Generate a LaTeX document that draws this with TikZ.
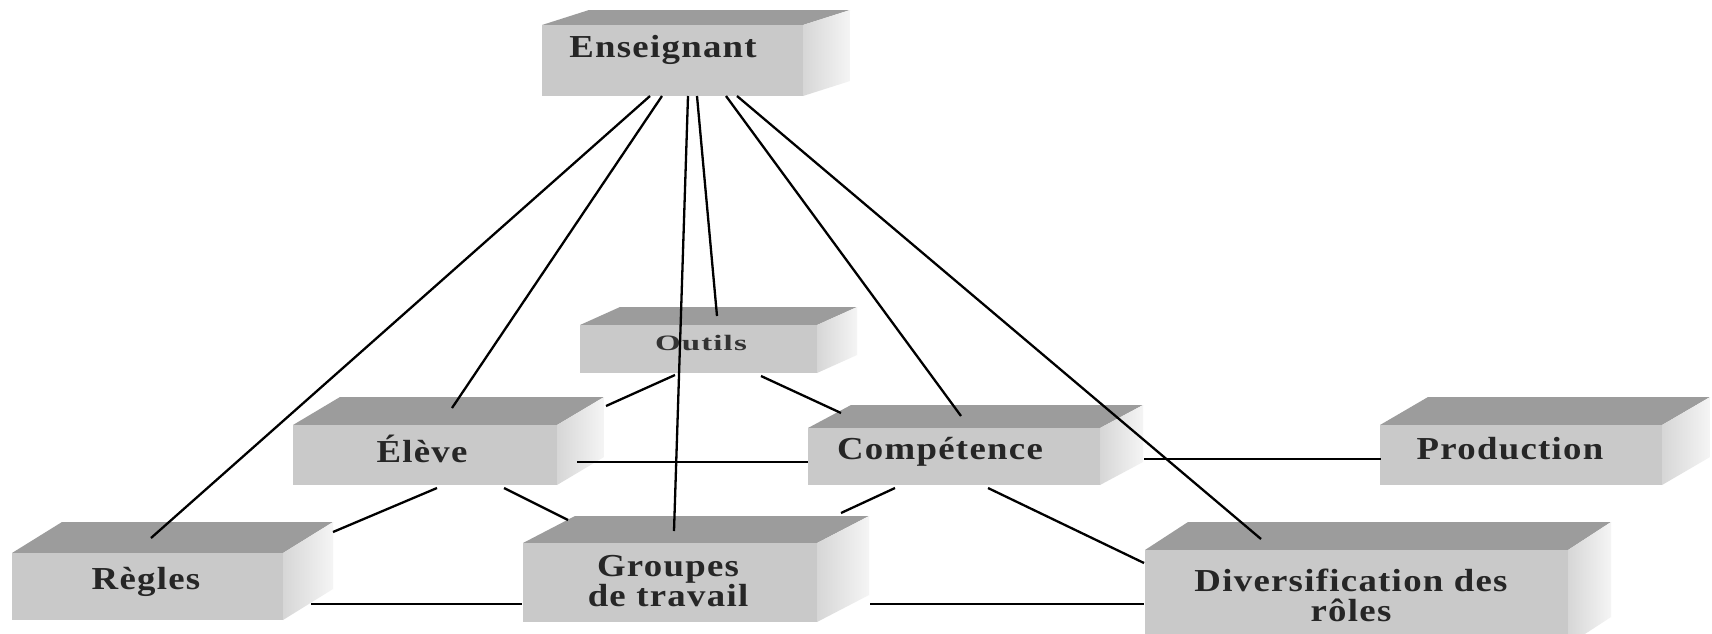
\documentclass[tikz,border=0pt]{standalone}
\usepackage{fontspec}
\setmainfont{Liberation Serif}
\newfontfamily\boxfont[LetterSpace=4, FakeStretch=1.15]{Liberation Serif}
\newfontfamily\smallboxfont[LetterSpace=5, FakeStretch=1.5]{Liberation Serif}
\tikzset{
  topface/.style={fill=gray!78},
  frontbox/.style={rectangle, fill=gray!42, draw=none, inner sep=0pt},
  lbl/.style={font=\boxfont\bfseries\fontsize{16}{15}\selectfont, align=center, text=black!85, inner sep=0pt},
  smalllbl/.style={font=\smallboxfont\bfseries\fontsize{11}{12}\selectfont, text=black!80, inner sep=0pt},
  link/.style={draw=black, line width=1.15pt},
}
% name, x1, y1, x2, y2, dx, dy
\newcommand\tdbox[7]{%
  \fill[topface] (#2,#3) -- ++(#6,#7) -- ++({#4-#2},0) -- (#4,#3) -- cycle;
  \shade[left color=gray!32, right color=gray!8] (#4,#3) -- ++(#6,#7) -- ++(0,{#5-#3}) -- (#4,#5) -- cycle;
  \node[frontbox, minimum width={(#4-#2)*0.5pt}, minimum height={(#5-#3)*0.5pt}] (#1) at ({(#2+#4)/2},{(#3+#5)/2}) {};
}
\begin{document}
\begin{tikzpicture}[x=0.5pt, y=-0.5pt]
\useasboundingbox (0,0) rectangle (1712,633);
\clip (0,0) rectangle (1712,633);
\fill[white] (0,0) rectangle (1712,633);

% boxes
\tdbox{ens}{542}{25}{803}{96}{47}{-15}
\tdbox{out}{580}{325}{817}{373}{40}{-18}
\tdbox{ele}{293}{425}{557}{485}{47}{-28}
\tdbox{com}{808}{428}{1100}{485}{43}{-23}
\tdbox{pro}{1380}{425}{1662}{485}{48}{-28}
\tdbox{reg}{12}{553}{283}{620}{50}{-31}
\tdbox{gro}{523}{543}{817}{622}{52}{-27}
\tdbox{div}{1145}{550}{1568}{645}{43}{-28}

% labels
\node[lbl] (ens-t) at (663,50) {Enseignant};
\node[smalllbl] (out-t) at (701,343) {Outils};
\node[lbl] (ele-t) at (422,449) {Élève};
\node[lbl] (com-t) at (940,452) {Compétence};
\node[lbl] (pro-t) at (1510,449) {Production};
\node[lbl] (reg-t) at (146,582) {Règles};
\node[lbl] (gro-t) at (668,581) {Groupes\\de travail};
\node[lbl] (div-t) at (1351,595) {Diversification des\\rôles};

% connector end points
\coordinate (ens-1) at (650,96);
\coordinate (ens-2) at (662,96);
\coordinate (ens-3) at (688,96);
\coordinate (ens-4) at (697,96);
\coordinate (ens-5) at (726,96);
\coordinate (ens-6) at (737,96);
\coordinate (reg-a) at (151,538);
\coordinate (ele-a) at (452,408);
\coordinate (gro-a) at (674,531);
\coordinate (out-a) at (717,316);
\coordinate (com-a) at (961,416);
\coordinate (div-a) at (1261,539);
\coordinate (ele-o) at (606,406);
\coordinate (out-e) at (675,375);
\coordinate (out-c) at (761,376);
\coordinate (com-o) at (841,413);
\coordinate (ele-c) at (577,462);
\coordinate (com-e) at (808,462);
\coordinate (ele-r) at (437,488);
\coordinate (reg-e) at (333,532);
\coordinate (ele-g) at (504,488);
\coordinate (gro-e) at (568,520);
\coordinate (com-g) at (895,488);
\coordinate (gro-c) at (841,513);
\coordinate (com-d) at (988,488);
\coordinate (div-c) at (1144,563);
\coordinate (com-p) at (1144,459);
\coordinate (pro-c) at (1381,459);
\coordinate (reg-g) at (311,604);
\coordinate (gro-r) at (522,604);
\coordinate (gro-d) at (870,604);
\coordinate (div-g) at (1144,604);

% connectors
\draw[link] (ens-1) -- (reg-a);
\draw[link] (ens-2) -- (ele-a);
\draw[link] (ens-3) -- (gro-a);
\draw[link] (ens-4) -- (out-a);
\draw[link] (ens-5) -- (com-a);
\draw[link] (ens-6) -- (div-a);
\draw[link] (ele-o) -- (out-e);
\draw[link] (out-c) -- (com-o);
\draw[link] (ele-c) -- (com-e);
\draw[link] (ele-r) -- (reg-e);
\draw[link] (ele-g) -- (gro-e);
\draw[link] (com-g) -- (gro-c);
\draw[link] (com-d) -- (div-c);
\draw[link] (com-p) -- (pro-c);
\draw[link] (reg-g) -- (gro-r);
\draw[link] (gro-d) -- (div-g);
\end{tikzpicture}
\end{document}
